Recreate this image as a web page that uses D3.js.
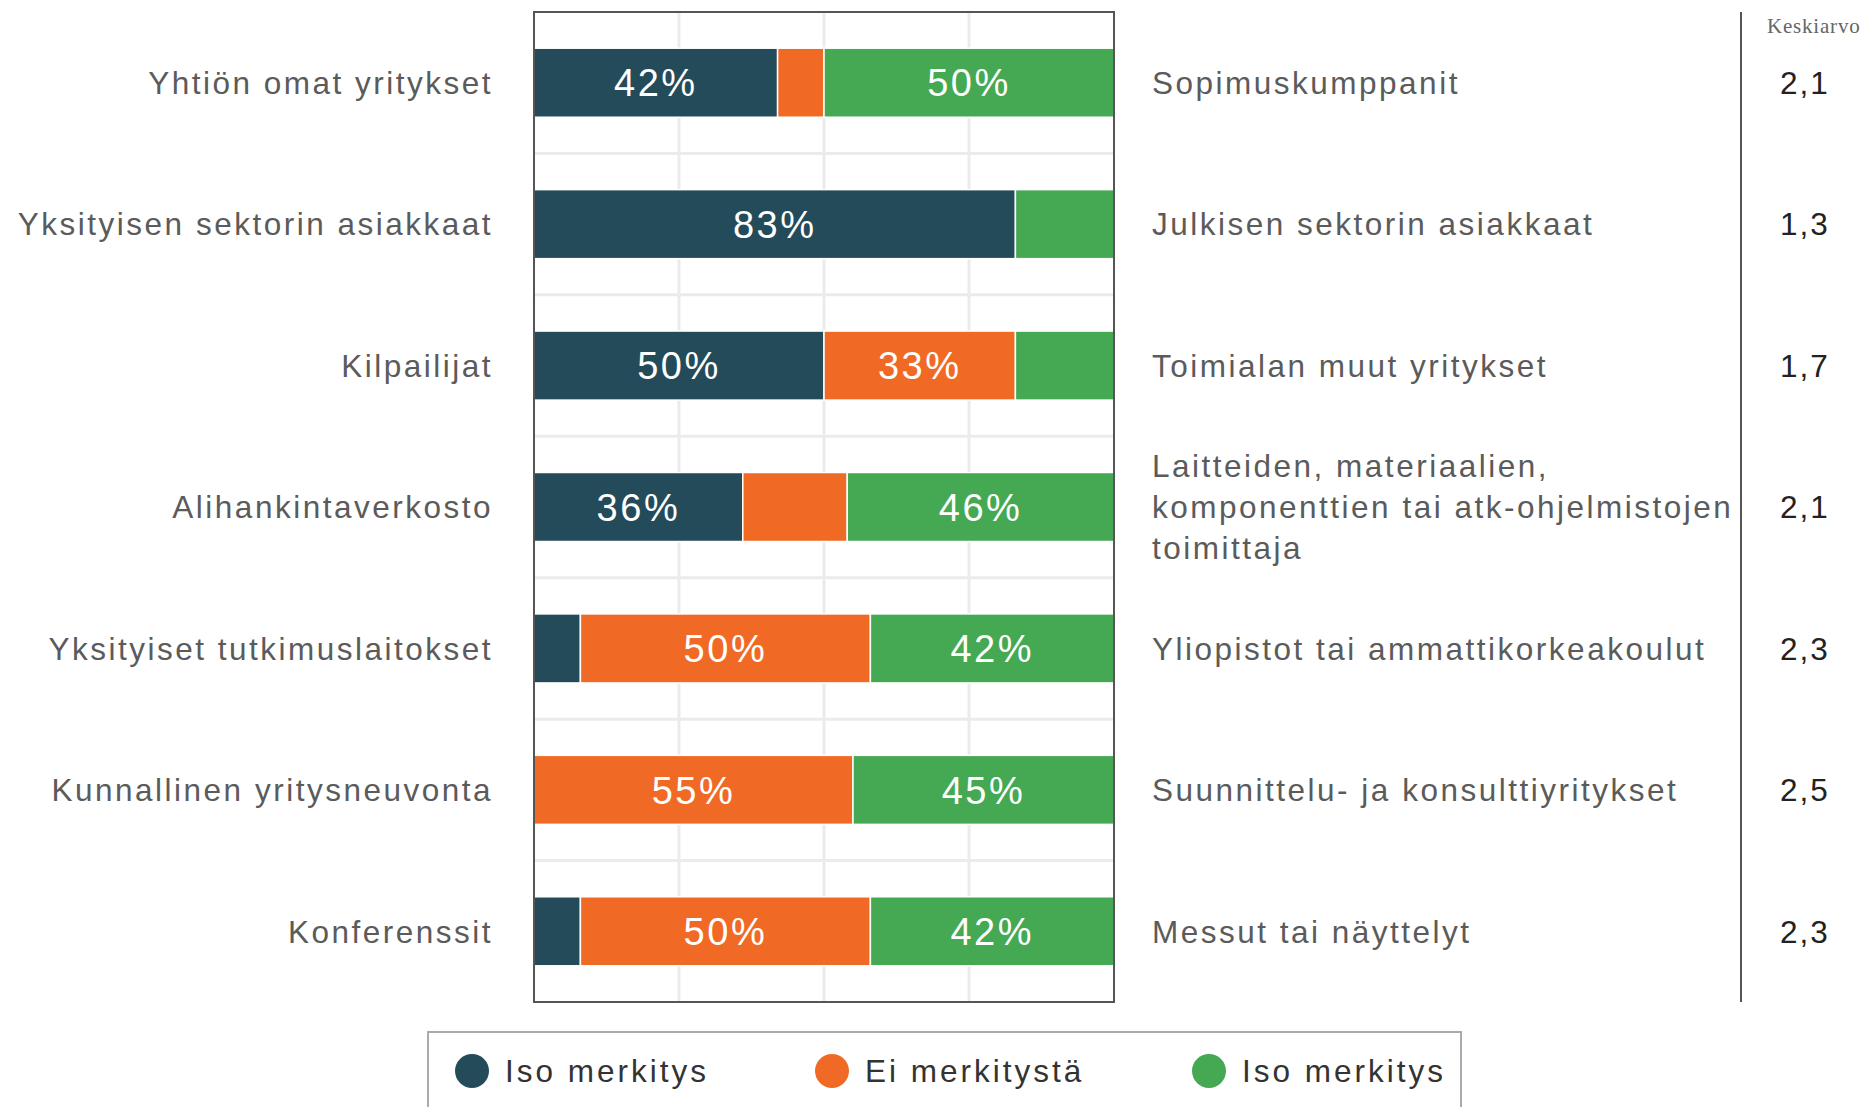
<!DOCTYPE html>
<html>
<head>
<meta charset="utf-8">
<script src="https://cdn.jsdelivr.net/npm/d3@7"></script>
<style>
  body { margin: 0; background: white; }
  svg text { font-family: "Liberation Sans", Arial, sans-serif; }
</style>
</head>
<body>
<div id="vis"></div>
<script>
const layout = {
    width: 1875,
    height: 1107,
    plotLeft: 534,
    plotRight: 1114,
    plotTop: 12,
    plotBottom: 1002,
    meanLineX: 1741
};

// data
const leftLabels = ["Yhtiön omat yritykset", "Yksityisen sektorin asiakkaat", "Kilpailijat",
    "Alihankintaverkosto", "Yksityiset tutkimuslaitokset", "Kunnallinen yritysneuvonta", "Konferenssit"];
const rightLabels = [["Sopimuskumppanit"], ["Julkisen sektorin asiakkaat"], ["Toimialan muut yritykset"],
    ["Laitteiden, materiaalien,", "komponenttien tai atk-ohjelmistojen", "toimittaja"],
    ["Yliopistot tai ammattikorkeakoulut"], ["Suunnittelu- ja konsulttiyritykset"], ["Messut tai näyttelyt"]];
const isoLeft = [42, 83, 50, 36, 8, 0, 8];
const eiMerkitysta = [8, 0, 33, 18, 50, 55, 50];
const isoRight = [50, 17, 17, 46, 42, 45, 42];
const means = ["2,1", "1,3", "1,7", "2,1", "2,3", "2,5", "2,3"];
const legendLabels = ["Iso merkitys", "Ei merkitystä", "Iso merkitys"];
const colors = ["#234b5a", "#f06a25", "#45a853"];

let rows = leftLabels.map((d, i) => ({
    idx: i, left: d, right: rightLabels[i], mean: means[i],
    a: isoLeft[i], b: eiMerkitysta[i], c: isoRight[i]
}));

let svg = d3.select("#vis").append("svg")
    .attr("width", layout.width)
    .attr("height", layout.height);

let xScale = d3.scaleLinear()
    .domain([0, 100])
    .range([layout.plotLeft, layout.plotRight]);
let yScale = d3.scaleBand()
    .domain(rows.map(d => d.idx))
    .range([layout.plotTop, layout.plotBottom])
    .paddingInner(0.512)
    .paddingOuter(0.256);

// gridlines
svg.append("g").selectAll("line").data([25, 50, 75]).join("line")
    .attr("x1", d => xScale(d)).attr("x2", d => xScale(d))
    .attr("y1", layout.plotTop).attr("y2", layout.plotBottom)
    .attr("stroke", "#ebebeb").attr("stroke-width", 3);
svg.append("g").selectAll("line").data(rows.slice(1)).join("line")
    .attr("x1", layout.plotLeft).attr("x2", layout.plotRight)
    .attr("y1", d => yScale(d.idx) - yScale.step() * yScale.paddingInner() / 2)
    .attr("y2", d => yScale(d.idx) - yScale.step() * yScale.paddingInner() / 2)
    .attr("stroke", "#ebebeb").attr("stroke-width", 3);

// stacked bars
let stack = d3.stack().keys(["a", "b", "c"])(rows);
let groups = svg.append("g").selectAll("g").data(stack).join("g")
    .attr("fill", (d, i) => colors[i]);
groups.selectAll("rect").data(d => d.filter(s => s[1] - s[0] > 0)).join("rect")
    .attr("x", d => xScale(d[0]))
    .attr("width", d => xScale(d[1]) - xScale(d[0]))
    .attr("y", d => yScale(d.data.idx))
    .attr("height", yScale.bandwidth())
    .attr("stroke", "white")
    .attr("stroke-width", 1.5);
groups.selectAll("text").data(d => d.filter(s => s[1] - s[0] >= 25)).join("text")
    .attr("x", d => xScale((d[0] + d[1]) / 2))
    .attr("y", d => yScale(d.data.idx) + yScale.bandwidth() / 2)
    .attr("dy", "0.36em")
    .attr("text-anchor", "middle")
    .attr("fill", "white")
    .attr("font-size", 38)
    .attr("letter-spacing", 2.5)
    .text(d => (d[1] - d[0]) + "%");

// frame
svg.append("rect")
    .attr("x", layout.plotLeft).attr("y", layout.plotTop)
    .attr("width", layout.plotRight - layout.plotLeft)
    .attr("height", layout.plotBottom - layout.plotTop)
    .attr("fill", "none").attr("stroke", "#555").attr("stroke-width", 2);

// left labels
svg.append("g").selectAll("text").data(rows).join("text")
    .attr("x", layout.plotLeft - 41)
    .attr("y", d => yScale(d.idx) + yScale.bandwidth() / 2)
    .attr("dy", "0.36em")
    .attr("text-anchor", "end")
    .attr("fill", "#5b5b5b")
    .attr("font-size", 31.5)
    .attr("letter-spacing", 2.5)
    .text(d => d.left);

// right labels
let rl = svg.append("g").selectAll("text").data(rows).join("text")
    .attr("x", layout.plotRight + 38)
    .attr("y", d => yScale(d.idx) + yScale.bandwidth() / 2 - (d.right.length - 1) * 20.5)
    .attr("fill", "#5b5b5b")
    .attr("font-size", 31.5)
    .attr("letter-spacing", 2.5);
rl.selectAll("tspan").data(d => d.right).join("tspan")
    .attr("x", layout.plotRight + 38)
    .attr("dy", (d, i) => i === 0 ? "0.36em" : 41)
    .text(d => d);

// mean column
svg.append("line")
    .attr("x1", layout.meanLineX).attr("x2", layout.meanLineX)
    .attr("y1", layout.plotTop).attr("y2", layout.plotBottom)
    .attr("stroke", "#555").attr("stroke-width", 2);
svg.append("text")
    .attr("x", layout.meanLineX + 26).attr("y", 33)
    .attr("fill", "#666")
    .attr("font-size", 21)
    .attr("letter-spacing", 0.8)
    .style("font-family", "'Liberation Serif', 'DejaVu Serif', serif")
    .text("Keskiarvo");
svg.append("g").selectAll("text").data(rows).join("text")
    .attr("x", layout.meanLineX + 64)
    .attr("y", d => yScale(d.idx) + yScale.bandwidth() / 2)
    .attr("dy", "0.36em")
    .attr("text-anchor", "middle")
    .attr("fill", "#222")
    .attr("font-size", 31.5)
    .attr("letter-spacing", 2)
    .text(d => d.mean);

// legend
let legendX = [472, 832, 1209];
svg.append("rect")
    .attr("x", 428).attr("y", 1032)
    .attr("width", 1033).attr("height", 120)
    .attr("fill", "white").attr("stroke", "#aaa").attr("stroke-width", 2);
let legend = svg.append("g").selectAll("g").data(legendLabels).join("g")
    .attr("transform", (d, i) => `translate(${legendX[i]},1071)`);
legend.append("circle")
    .attr("r", 17)
    .attr("fill", (d, i) => colors[i]);
legend.append("text")
    .attr("x", 33)
    .attr("dy", "0.36em")
    .attr("fill", "#333")
    .attr("font-size", 31.5)
    .attr("letter-spacing", 3)
    .text(d => d);
</script>
</body>
</html>
